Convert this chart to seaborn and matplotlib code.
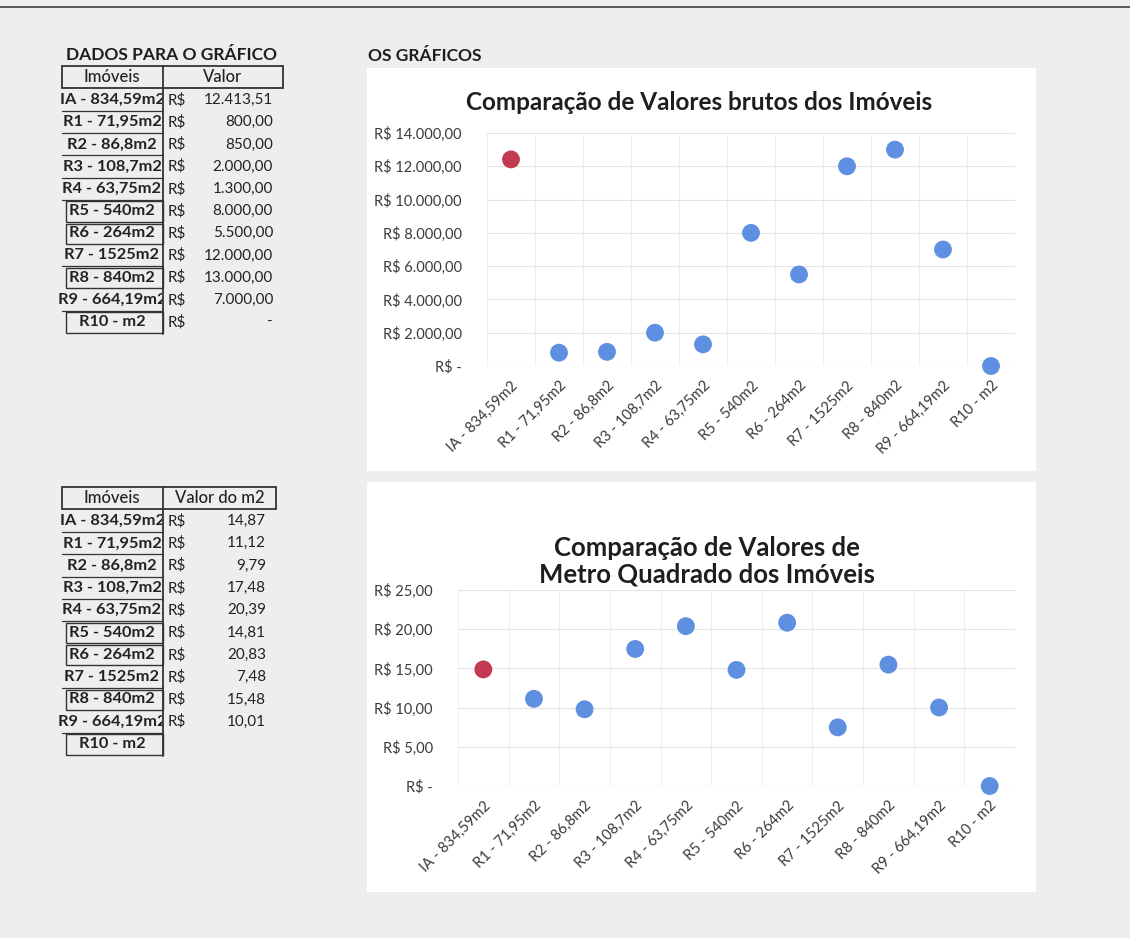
import matplotlib
matplotlib.use("Agg")
import matplotlib.pyplot as plt
import seaborn as sns
import pandas as pd
from matplotlib.patches import Rectangle
from matplotlib.lines import Line2D
from matplotlib.transforms import Bbox, TransformedBbox

# ---------------- data ----------------
categories = ["IA - 834,59m2", "R1 - 71,95m2", "R2 - 86,8m2", "R3 - 108,7m2",
              "R4 - 63,75m2", "R5 - 540m2", "R6 - 264m2", "R7 - 1525m2",
              "R8 - 840m2", "R9 - 664,19m2", "R10 - m2"]
groups = ["IA", "R", "R", "R", "R", "R", "R", "R", "R", "R", "R"]
valor_bruto = [12413.51, 800.00, 850.00, 2000.00, 1300.00, 8000.00, 5500.00,
               12000.00, 13000.00, 7000.00, 0.00]
valor_m2 = [14.87, 11.12, 9.79, 17.48, 20.39, 14.81, 20.83, 7.48, 15.48, 10.01, 0.00]
valor_m2_shown = [True, True, True, True, True, True, True, True, True, True, False]
yticks_bruto = [0, 2000, 4000, 6000, 8000, 10000, 12000, 14000]
yticks_m2 = [0, 5, 10, 15, 20, 25]

title_top = "Comparação de Valores brutos dos Imóveis"
title_bottom = "Comparação de Valores de\nMetro Quadrado dos Imóveis"

palette = {"IA": "#c23b52", "R": "#5f8fe0"}

W, H = 1130, 938
FONT = ["Lato", "DejaVu Sans"]

sns.set_style("white")
plt.rcParams["font.family"] = FONT


def brl(v):
    if v == 0:
        return "R$ -"
    s = f"{v:,.2f}"
    s = s.replace(",", "X").replace(".", ",").replace("X", ".")
    return "R$ " + s


def num_br(v):
    if v == 0:
        return "-"
    s = f"{v:,.2f}"
    return s.replace(",", "X").replace(".", ",").replace("X", ".")


def fx(x):
    return x / W


def fy(y):
    return 1 - y / H


fig = plt.figure(figsize=(W / 100, H / 100), dpi=100, facecolor="#efeeee")

# scan top edge line
fig.add_artist(Line2D([0, 1], [fy(7), fy(7)], transform=fig.transFigure,
                      color="#555555", lw=1.4))

# chart panels (white)
for (y0, y1) in [(68, 471), (482, 892)]:
    fig.add_artist(Rectangle((fx(367), fy(y1)), fx(1036) - fx(367), fy(y0) - fy(y1),
                             transform=fig.transFigure, facecolor="white",
                             edgecolor="none", zorder=0))

df = pd.DataFrame({"imovel": categories, "grupo": groups,
                   "bruto": valor_bruto, "m2": valor_m2})


def draw_chart(rect, col, yticks, title, title_xy, title_size):
    ax = fig.add_axes(rect)
    ax.set_facecolor("none")
    sns.scatterplot(data=df, x="imovel", y=col, hue="grupo", palette=palette,
                    s=165, edgecolor="none", legend=False, ax=ax, zorder=3,
                    clip_on=False)
    ax.set_xlim(-0.5, len(categories) - 0.5)
    ax.set_ylim(yticks[0], yticks[-1])
    ax.set_yticks(yticks)
    ax.set_yticklabels([brl(v) for v in yticks])
    ax.set_xticks(range(len(categories)))
    ax.set_xticklabels(categories, rotation=45, ha="right", rotation_mode="anchor")
    ax.set_xticks([k - 0.5 for k in range(len(categories) + 1)], minor=True)
    ax.grid(True, axis="y", which="major", color="#e4e4e4", lw=0.8)
    ax.grid(True, axis="x", which="minor", color="#efefef", lw=0.8)
    ax.grid(False, axis="x", which="major")
    for s in ax.spines.values():
        s.set_visible(False)
    ax.tick_params(axis="both", which="both", length=0, labelsize=10.5,
                   labelcolor="#3a3a3a")
    ax.tick_params(axis="y", pad=18)
    ax.tick_params(axis="x", pad=9)
    ax.set_xlabel("")
    ax.set_ylabel("")
    fig.text(fx(title_xy[0]), fy(title_xy[1]), title, ha="center", va="center",
             fontsize=title_size, fontweight="bold", color="#1e1e1e",
             linespacing=1.15)
    return ax


draw_chart([fx(487), fy(366), fx(1015) - fx(487), fy(133) - fy(366)],
           "bruto", yticks_bruto, title_top, (699, 102), 17.5)
draw_chart([fx(458), fy(786), fx(1015) - fx(458), fy(590) - fy(786)],
           "m2", yticks_m2, title_bottom, (707, 561), 18.5)

# ---------------- section titles ----------------
fig.text(fx(66), fy(55), "DADOS PARA O GRÁFICO", ha="left", va="center",
         fontsize=12.5, fontweight="bold", color="#1e1e1e")
fig.text(fx(368), fy(56), "OS GRÁFICOS", ha="left", va="center",
         fontsize=12.5, fontweight="bold", color="#1e1e1e")

LINE = "#333333"


def hline(x0, x1, y, lw=1.0):
    fig.add_artist(Line2D([fx(x0), fx(x1)], [fy(y), fy(y)],
                          transform=fig.transFigure, color=LINE, lw=lw))


def vline(x, y0, y1, lw=1.0):
    fig.add_artist(Line2D([fx(x), fx(x)], [fy(y0), fy(y1)],
                          transform=fig.transFigure, color=LINE, lw=lw))


def draw_table(top, bottom_hdr, row0, step, header2, right, values, shown, fmt):
    # header box
    fig.add_artist(Rectangle((fx(62), fy(bottom_hdr)), fx(right) - fx(62),
                             fy(top) - fy(bottom_hdr), transform=fig.transFigure,
                             facecolor="none", edgecolor=LINE, lw=1.3))
    mid = (top + bottom_hdr) / 2
    fig.text(fx(112), fy(mid), "Imóveis", ha="center", va="center",
             fontsize=12, fontweight="medium", color="#222222")
    fig.text(fx((163 + right) / 2), fy(mid), header2, ha="center", va="center",
             fontsize=12, fontweight="medium", color="#222222")
    last = row0 + step * (len(categories) - 1)
    vline(163, top, last + step / 2 + 1, lw=1.3)
    clip = TransformedBbox(Bbox([[0, 0], [fx(162), 1]]), fig.transFigure)
    boxed = {5, 6, 8, 10}
    for i, name in enumerate(categories):
        y = row0 + i * step
        t = fig.text(fx(112), fy(y), name, ha="center", va="center",
                     fontsize=11.8, fontweight="bold", color="#222222")
        t.set_clip_box(clip)
        t.set_clip_on(True)
        if i in boxed:
            fig.add_artist(Rectangle((fx(66), fy(y + step / 2 - 0.5)), fx(163) - fx(66),
                                     fy(y - step / 2 + 1.5) - fy(y + step / 2 - 0.5),
                                     transform=fig.transFigure, facecolor="none",
                                     edgecolor=LINE, lw=1.0))
        else:
            hline(62, 163, y + step / 2, lw=0.9)
        if shown[i]:
            fig.text(fx(168), fy(y), "R$", ha="left", va="center",
                     fontsize=11, color="#222222")
            fig.text(fx(right - 10), fy(y), fmt(values[i]), ha="right", va="center",
                     fontsize=11, color="#222222")


draw_table(66, 88, 100, 22.2, "Valor", 283, valor_bruto,
           [True] * len(categories), num_br)
draw_table(487, 509, 521, 22.3, "Valor do m2", 276, valor_m2,
           valor_m2_shown, num_br)

fig.savefig("out.png", dpi=100, facecolor=fig.get_facecolor())
